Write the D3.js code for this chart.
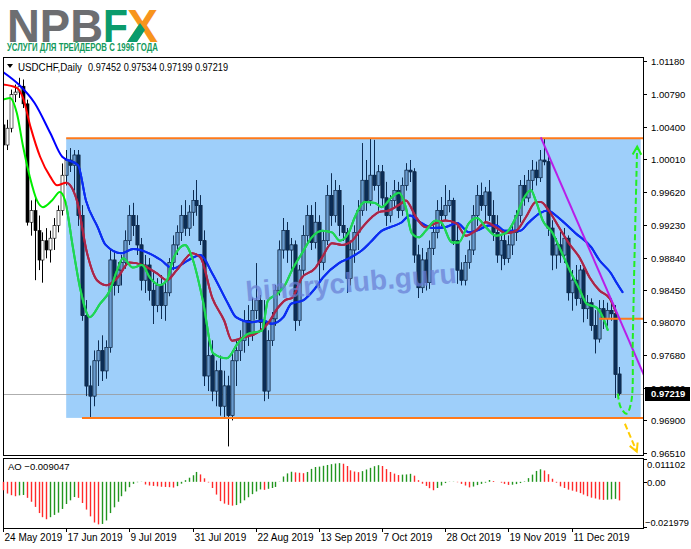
<!DOCTYPE html>
<html>
<head>
<meta charset="utf-8">
<script src="https://cdn.jsdelivr.net/npm/d3@7"></script>
<style>
  body { margin: 0; background: #fff; }
  svg { display: block; font-family: "Liberation Sans", Arial, sans-serif; }
</style>
</head>
<body>
<svg width="691" height="549"></svg>
<script>
// ---- data ----
const dateLabels = ['24 May 2019', '17 Jun 2019', '9 Jul 2019', '31 Jul 2019', '22 Aug 2019',
  '13 Sep 2019', '7 Oct 2019', '28 Oct 2019', '19 Nov 2019', '11 Dec 2019'];
const dateBars = [0, 16, 32, 48, 64, 80, 96, 112, 128, 144];

const priceTicks = [1.0118, 1.0079, 1.0040, 1.0001, 0.9962, 0.9923, 0.9884, 0.9845,
  0.9807, 0.9768, 0.9729, 0.9690, 0.9651];

const opens = [
  1.0042, 1.0018, 1.0038, 1.0078, 1.0081, 1.0088, 1.0067, 0.9926, 0.9940, 0.9916,
  0.9881, 0.9904, 0.9893, 0.9907, 0.9922, 0.9940, 0.9982, 1.0000, 0.9994, 1.0006,
  0.9934, 0.9815, 0.9731, 0.9719, 0.9761, 0.9773, 0.9749, 0.9777, 0.9881, 0.9851,
  0.9869, 0.9878, 0.9904, 0.9934, 0.9922, 0.9899, 0.9857, 0.9875, 0.9845, 0.9827,
  0.9851, 0.9827, 0.9842, 0.9878, 0.9899, 0.9914, 0.9934, 0.9919, 0.9938, 0.9952,
  0.9946, 0.9904, 0.9743, 0.9767, 0.9725, 0.9749, 0.9707, 0.9731, 0.9696, 0.9761,
  0.9773, 0.9785, 0.9809, 0.9791, 0.9821, 0.9833, 0.9807, 0.9725, 0.9785, 0.9811,
  0.9845, 0.9893, 0.9916, 0.9893, 0.9899, 0.9809, 0.9869, 0.9910, 0.9934, 0.9902,
  0.9926, 0.9878, 0.9904, 0.9958, 0.9934, 0.9964, 0.9922, 0.9914, 0.9859, 0.9893,
  0.9914, 0.9940, 0.9976, 0.9952, 0.9982, 0.9970, 0.9986, 0.9955, 0.9934, 0.9952,
  0.9964, 0.9940, 0.9970, 0.9988, 0.9986, 0.9887, 0.9848, 0.9881, 0.9854, 0.9895,
  0.9914, 0.9940, 0.9934, 0.9946, 0.9952, 0.9904, 0.9869, 0.9857, 0.9878, 0.9893,
  0.9934, 0.9958, 0.9946, 0.9962, 0.9934, 0.9914, 0.9887, 0.9904, 0.9883, 0.9899,
  0.9914, 0.9934, 0.9970, 0.9955, 0.9976, 0.9988, 0.9979, 1.0000, 0.9998, 0.9919,
  0.9887, 0.9899, 0.9887, 0.9907, 0.9842, 0.9857, 0.9835, 0.9869, 0.9823, 0.9830,
  0.9803, 0.9787, 0.9823, 0.9811, 0.9821, 0.9817, 0.97452];
const highs = [
  1.0050, 1.0048, 1.0084, 1.0090, 1.0098, 1.0096, 1.0072, 0.9952, 0.9958, 0.9934,
  0.9914, 0.9919, 0.9916, 0.9931, 0.9946, 0.9996, 1.0012, 1.0014, 1.0012, 1.0012,
  0.9946, 0.9833, 0.9755, 0.9773, 0.9785, 0.9791, 0.9785, 0.9893, 0.9890, 0.9878,
  0.9887, 0.9916, 0.9946, 0.9949, 0.9934, 0.9907, 0.9887, 0.9883, 0.9869, 0.9859,
  0.9863, 0.9854, 0.9883, 0.9910, 0.9922, 0.9946, 0.9952, 0.9946, 0.9964, 0.9976,
  0.9958, 0.9916, 0.9785, 0.9785, 0.9761, 0.9767, 0.9749, 0.9743, 0.9773, 0.9785,
  0.9797, 0.9821, 0.9827, 0.9836, 0.9877, 0.9839, 0.9833, 0.9797, 0.9819, 0.9851,
  0.9904, 0.9931, 0.9926, 0.9907, 0.9904, 0.9875, 0.9922, 0.9946, 0.9946, 0.9950,
  0.9934, 0.9914, 0.9970, 0.9984, 0.9976, 0.9970, 0.9946, 0.9919, 0.9904, 0.9922,
  0.9952, 1.0020, 1.0000, 1.0026, 1.0024, 0.9994, 0.9994, 0.9974, 0.9958, 0.9976,
  0.9974, 0.9979, 0.9996, 1.0000, 0.9990, 0.9899, 0.9895, 0.9890, 0.9904, 0.9922,
  0.9952, 0.9956, 0.9970, 0.9964, 0.9955, 0.9922, 0.9878, 0.9887, 0.9904, 0.9946,
  0.9970, 0.9973, 0.9968, 0.9976, 0.9952, 0.9934, 0.9910, 0.9916, 0.9910, 0.9922,
  0.9940, 0.9976, 0.9982, 0.9988, 1.0000, 0.9998, 1.0012, 1.0026, 1.0006, 0.9928,
  0.9907, 0.9914, 0.9919, 0.9910, 0.9869, 0.9875, 0.9875, 0.9871, 0.9839, 0.9835,
  0.9821, 0.9833, 0.9833, 0.9830, 0.9835, 0.9827, 0.97534];
const lows = [
  1.0010, 1.0012, 1.0033, 1.0069, 1.0074, 1.0062, 0.9922, 0.9910, 0.9857, 0.9869,
  0.9854, 0.9883, 0.9878, 0.9893, 0.9914, 0.9934, 0.9970, 0.9986, 0.9964, 0.9922,
  0.9809, 0.9719, 0.9692, 0.9707, 0.9731, 0.9737, 0.9740, 0.9771, 0.9839, 0.9842,
  0.9851, 0.9871, 0.9899, 0.9910, 0.9887, 0.9845, 0.9842, 0.9833, 0.9805, 0.9819,
  0.9811, 0.9809, 0.9838, 0.9869, 0.9887, 0.9904, 0.9910, 0.9910, 0.9922, 0.9934,
  0.9899, 0.9731, 0.9725, 0.9713, 0.9707, 0.9696, 0.9692, 0.9659, 0.9690, 0.9731,
  0.9761, 0.9771, 0.9779, 0.9785, 0.9811, 0.9797, 0.9713, 0.9716, 0.9779, 0.9803,
  0.9839, 0.9883, 0.9878, 0.9869, 0.9797, 0.9803, 0.9863, 0.9899, 0.9893, 0.9895,
  0.9848, 0.9869, 0.9899, 0.9922, 0.9926, 0.9910, 0.9904, 0.9842, 0.9851, 0.9878,
  0.9893, 0.9934, 0.9940, 0.9946, 0.9964, 0.9940, 0.9946, 0.9922, 0.9926, 0.9943,
  0.9931, 0.9934, 0.9964, 0.9974, 0.9878, 0.9836, 0.9842, 0.9845, 0.9847, 0.9887,
  0.9907, 0.9922, 0.9928, 0.9938, 0.9899, 0.9853, 0.9851, 0.9851, 0.9871, 0.9887,
  0.9922, 0.9940, 0.9926, 0.9928, 0.9904, 0.9878, 0.9869, 0.9875, 0.9878, 0.9887,
  0.9904, 0.9926, 0.9946, 0.9950, 0.9964, 0.9970, 0.9974, 0.9994, 0.9910, 0.9869,
  0.9871, 0.9878, 0.9878, 0.9833, 0.9821, 0.9827, 0.9829, 0.9807, 0.9811, 0.9797,
  0.9770, 0.9783, 0.9799, 0.9803, 0.9809, 0.9717, 0.97199];
const closes = [
  1.0018, 1.0038, 1.0078, 1.0081, 1.0088, 1.0067, 0.9926, 0.9940, 0.9916, 0.9881,
  0.9904, 0.9893, 0.9907, 0.9922, 0.9940, 0.9982, 1.0000, 0.9994, 1.0006, 0.9934,
  0.9815, 0.9731, 0.9719, 0.9761, 0.9773, 0.9749, 0.9777, 0.9881, 0.9851, 0.9869,
  0.9878, 0.9904, 0.9934, 0.9922, 0.9899, 0.9857, 0.9875, 0.9845, 0.9827, 0.9851,
  0.9827, 0.9842, 0.9878, 0.9899, 0.9914, 0.9934, 0.9919, 0.9938, 0.9952, 0.9946,
  0.9904, 0.9743, 0.9767, 0.9725, 0.9749, 0.9707, 0.9731, 0.9696, 0.9761, 0.9773,
  0.9785, 0.9809, 0.9791, 0.9821, 0.9833, 0.9807, 0.9725, 0.9785, 0.9811, 0.9845,
  0.9893, 0.9916, 0.9893, 0.9899, 0.9809, 0.9869, 0.9910, 0.9934, 0.9902, 0.9926,
  0.9878, 0.9904, 0.9958, 0.9934, 0.9964, 0.9922, 0.9914, 0.9859, 0.9893, 0.9914,
  0.9940, 0.9976, 0.9952, 0.9982, 0.9970, 0.9986, 0.9955, 0.9934, 0.9952, 0.9964,
  0.9940, 0.9970, 0.9988, 0.9986, 0.9887, 0.9848, 0.9881, 0.9854, 0.9895, 0.9914,
  0.9940, 0.9934, 0.9946, 0.9952, 0.9904, 0.9869, 0.9857, 0.9878, 0.9893, 0.9934,
  0.9958, 0.9946, 0.9962, 0.9934, 0.9914, 0.9887, 0.9904, 0.9883, 0.9899, 0.9914,
  0.9934, 0.9970, 0.9955, 0.9976, 0.9988, 0.9979, 1.0000, 0.9998, 0.9919, 0.9887,
  0.9899, 0.9887, 0.9907, 0.9842, 0.9857, 0.9835, 0.9869, 0.9823, 0.9830, 0.9803,
  0.9787, 0.9823, 0.9811, 0.9821, 0.9817, 0.9745, 0.97219];

// Awesome Oscillator, one value per bar
const aoValues = [
  -0.0041, -0.0057, -0.0065, -0.0070, -0.0066, -0.0064, -0.0078, -0.0097, -0.0122, -0.0152,
  -0.0172, -0.0182, -0.0172, -0.0161, -0.0150, -0.0132, -0.0108, -0.0090, -0.0074, -0.0078,
  -0.0103, -0.0135, -0.0168, -0.0198, -0.0207, -0.0205, -0.0188, -0.0152, -0.0124, -0.0097,
  -0.0070, -0.0047, -0.0026, -0.0010, -0.0002, -0.0001, -0.0013, -0.0018, -0.0020, -0.0022,
  -0.0024, -0.0025, -0.0026, -0.0028, -0.0021, -0.0009, 0.0008, 0.0020, 0.0032, 0.0048,
  0.0036, 0.0017, -0.0003, -0.0030, -0.0062, -0.0094, -0.0106, -0.0112, -0.0116, -0.0113,
  -0.0104, -0.0090, -0.0075, -0.0060, -0.0047, -0.0037, -0.0039, -0.0034, -0.0030, -0.0025,
  0.0001, 0.0026, 0.0041, 0.0049, 0.0046, 0.0044, 0.0042, 0.0048, 0.0063, 0.0072,
  0.0074, 0.0078, 0.0082, 0.0086, 0.0089, 0.0091, 0.0088, 0.0077, 0.0056, 0.0050,
  0.0047, 0.0052, 0.0060, 0.0068, 0.0076, 0.0081, 0.0077, 0.0062, 0.0048, 0.0040,
  0.0033, 0.0035, 0.0036, 0.0039, 0.0030, 0.0008, -0.0009, -0.0020, -0.0031, -0.0041,
  -0.0030, -0.0018, -0.0006, -0.0001, 0.0001, -0.0002, -0.0010, -0.0018, -0.0027, -0.0023,
  -0.0016, -0.0010, -0.0004, 0.0009, 0.0004, 0.0000, -0.0004, -0.0010, -0.0015, -0.0014,
  -0.0011, -0.0006, 0.0002, 0.0018, 0.0035, 0.0053, 0.0061, 0.0055, 0.0037, 0.0015,
  -0.0004, -0.0022, -0.0030, -0.0038, -0.0043, -0.0048, -0.0055, -0.0062, -0.0070, -0.0077,
  -0.0081, -0.0086, -0.0088, -0.0087, -0.0085, -0.0083, -0.009047];

// alligator lines, [bar, price]
const jaw = [[0,1.0105],[4,1.0090],[8,1.0068],[12,1.0032],[15,1.0004],[19,0.9994],[21,0.9952],
  [24,0.9920],[26,0.9899],[30,0.9889],[33,0.9894],[37,0.9889],[40,0.9881],[43,0.9871],[47,0.9881],
  [50,0.9887],[53,0.9865],[57,0.9829],[59,0.9813],[63,0.9807],[66,0.9809],[68,0.9805],[71,0.9813],
  [73,0.9829],[76,0.9833],[79,0.9847],[81,0.9860],[85,0.9877],[88,0.9884],[91,0.9893],[93,0.9902],
  [96,0.9916],[98,0.9920],[101,0.9926],[103,0.9934],[106,0.9925],[109,0.9919],[112,0.9920],
  [115,0.9925],[118,0.9914],[120,0.9916],[123,0.9922],[125,0.9922],[127,0.9916],[131,0.9916],
  [133,0.9925],[136,0.9937],[138,0.9940],[140,0.9934],[142,0.9926],[145,0.9913],[149,0.9896],
  [151,0.9881],[154,0.9865],[155,0.9857],[157,0.9842]];
const teeth = [[0,1.0090],[3.5,1.0086],[5,1.0075],[7,1.0039],[9.4,1.0004],[12,0.9980],[13.7,0.9970],
  [16,0.9973],[18.7,0.9952],[21.3,0.9889],[23.8,0.9857],[26.3,0.9851],[29,0.9860],[32,0.9878],
  [35.4,0.9875],[39,0.9865],[41.5,0.9857],[44,0.9869],[48,0.9889],[50,0.9884],[53,0.9836],
  [56,0.9809],[58,0.9785],[61,0.9789],[64.6,0.9795],[67,0.9805],[69.6,0.9824],[71.4,0.9833],
  [73.2,0.9836],[75.7,0.9860],[79,0.9871],[80.8,0.9884],[83.3,0.9901],[85.8,0.9899],[88.4,0.9904],
  [91,0.9920],[93.4,0.9932],[95.2,0.9938],[97.7,0.9940],[101,0.9949],[102,0.9952],[104.6,0.9932],
  [107,0.9920],[109.6,0.9925],[112,0.9928],[114.7,0.9925],[117.2,0.9910],[119.7,0.9916],
  [122.3,0.9926],[124.8,0.9920],[127.3,0.9913],[130,0.9916],[132.4,0.9932],[135,0.9950],
  [136.2,0.9950],[138.2,0.9940],[140.8,0.9920],[143.3,0.9901],[146,0.9884],[148.6,0.9860],
  [151,0.9845],[153.7,0.9835],[155.4,0.9817]];
const lips = [[0,1.0072],[1.8,1.0074],[3.5,1.0056],[5.1,1.0016],[6.8,0.9980],[8.6,0.9952],
  [10.1,0.9944],[12.4,0.9952],[14.4,0.9962],[15.7,0.9952],[17.7,0.9896],[19.5,0.9848],[22,0.9813],
  [24.6,0.9829],[27.1,0.9845],[28.9,0.9869],[30.4,0.9883],[32.9,0.9872],[35.2,0.9875],[37.2,0.9860],
  [39.7,0.9851],[41.5,0.9857],[43,0.9881],[46.1,0.9899],[48.1,0.9881],[50.6,0.9833],[53.2,0.9770],
  [56.7,0.9764],[59.5,0.9782],[62,0.9793],[65.6,0.9797],[67.1,0.9833],[69.6,0.9841],[71.4,0.9851],
  [73.2,0.9869],[75.7,0.9889],[78.2,0.9908],[80.8,0.9916],[83.3,0.9914],[85.3,0.9904],[87.6,0.9914],
  [89.1,0.9932],[91.6,0.9950],[94.2,0.9949],[95.9,0.9944],[98.5,0.9956],[100.3,0.9961],[102,0.9944],
  [103.5,0.9913],[105.3,0.9908],[107.1,0.9916],[109.6,0.9928],[111.1,0.9925],[113.7,0.9902],
  [115.4,0.9902],[118,0.9925],[120,0.9931],[122.3,0.9920],[124.8,0.9910],[127.3,0.9913],
  [129.9,0.9932],[131.6,0.9952],[133.7,0.9964],[134.9,0.9952],[136.7,0.9928],[139.2,0.9913],
  [141,0.9895],[143.5,0.9869],[146.1,0.9845],[147.8,0.9829],[150.4,0.9824],[151.9,0.9813],
  [153.2,0.9797]];

// drawn objects
const rangeTop = 1.0026, rangeBottom = 0.9693, rangeStart = 16, rangeEnd = 161.5;
const bottomLineStart = 20;
const midLevel = 0.9811, midLevelStart = 151;
const trendLine = [[136.2, 1.0027], [162.5, 0.9742]];
const upArrow = [[155.7, 0.9722], [156.4, 0.9706], [157.9, 0.9698], [159.1, 0.9712],
  [159.5, 0.9790], [160.0, 0.9900], [160.6, 1.0016]];
const downArrow = [[157.5, 0.9686], [160.5, 0.9653]];
const lastPrice = 0.97219;
const aoTicks = [0.011102, 0, -0.021979];

// ---- layout ----
const svg = d3.select('svg');
const plot = { left: 3, right: 643, top: 57, bottom: 455 };
const aoBox = { top: 458, bottom: 528 };

const x = d3.scaleLinear().domain([0, 156]).range([3, 619]);
const y = d3.scaleLinear().domain([0.96488, 1.01228]).range([plot.bottom, plot.top]);
const yAo = d3.scaleLinear().domain([-0.021979, 0.011102]).range([aoBox.bottom - 1, aoBox.top + 1]);

const defs = svg.append('defs');
defs.append('clipPath').attr('id', 'plotClip').append('rect')
  .attr('x', plot.left).attr('y', plot.top)
  .attr('width', plot.right - plot.left).attr('height', plot.bottom - plot.top);
defs.append('clipPath').attr('id', 'boxClip').append('rect')
  .attr('x', x(rangeStart)).attr('y', y(rangeTop))
  .attr('width', x(rangeEnd) - x(rangeStart)).attr('height', y(rangeBottom) - y(rangeTop));

// logo
svg.append('text').attr('x', 7).attr('y', 42).text('NPB')
  .attr('font-size', 47).attr('font-weight', 'bold').attr('fill', '#6d6e71')
  .attr('textLength', 96).attr('lengthAdjust', 'spacingAndGlyphs');
svg.append('text').attr('x', 103).attr('y', 42).text('F')
  .attr('font-size', 47).attr('font-weight', 'bold').attr('fill', '#0a9b6c')
  .attr('textLength', 25).attr('lengthAdjust', 'spacingAndGlyphs');
svg.append('text').attr('x', 127).attr('y', 42).text('X')
  .attr('font-size', 47).attr('font-weight', 'bold').attr('fill', '#f7941d')
  .attr('textLength', 31).attr('lengthAdjust', 'spacingAndGlyphs');
svg.append('path').attr('d', 'M127,42 L137,42 L145,30 L140,23 Z').attr('fill', '#0a9b6c');
svg.append('text').attr('x', 7).attr('y', 51).text('УСЛУГИ ДЛЯ ТРЕЙДЕРОВ С 1996 ГОДА')
  .attr('font-size', 10.5).attr('font-weight', 'bold').attr('fill', '#129a5c')
  .attr('textLength', 151).attr('lengthAdjust', 'spacingAndGlyphs');

// main panel
const main = svg.append('g').attr('clip-path', 'url(#plotClip)');

main.append('rect')
  .attr('x', x(rangeStart)).attr('y', y(rangeTop))
  .attr('width', x(rangeEnd) - x(rangeStart)).attr('height', y(rangeBottom) - y(rangeTop))
  .attr('fill', '#9ecffa');

main.append('line')
  .attr('x1', plot.left).attr('x2', plot.right)
  .attr('y1', Math.round(y(lastPrice)) + 0.5).attr('y2', Math.round(y(lastPrice)) + 0.5)
  .attr('stroke', '#9a9a9a').attr('stroke-width', 1).attr('opacity', 0.8);

const bars = d3.range(closes.length);

function drawCandles(g, bullFill, bearFill, ink) {
  g.selectAll('line.wick').data(bars).enter().append('line')
    .attr('class', 'wick')
    .attr('x1', i => Math.round(x(i)) + 0.5).attr('x2', i => Math.round(x(i)) + 0.5)
    .attr('y1', i => y(highs[i])).attr('y2', i => y(lows[i]))
    .attr('stroke', ink).attr('stroke-width', 1);
  g.selectAll('rect.body').data(bars).enter().append('rect')
    .attr('class', 'body')
    .attr('x', i => Math.round(x(i)) - 1)
    .attr('y', i => y(Math.max(opens[i], closes[i])))
    .attr('width', 3)
    .attr('height', i => Math.max(1, Math.abs(y(opens[i]) - y(closes[i]))))
    .attr('fill', i => closes[i] >= opens[i] ? bullFill : bearFill)
    .attr('stroke', ink).attr('stroke-width', 0.6);
}

drawCandles(main.append('g'), '#ffffff', '#000000', '#000000');
drawCandles(main.append('g').attr('clip-path', 'url(#boxClip)'), '#6b9ccd', '#0c2d55', '#0c2d55');

// alligator
const line = d3.line().x(d => x(d[0])).y(d => y(d[1])).curve(d3.curveMonotoneX);
const alligator = [
  { data: jaw, out: '#0000ff', inn: '#0a30f0' },
  { data: teeth, out: '#ff0000', inn: '#a3284e' },
  { data: lips, out: '#00ee00', inn: '#1fd35a' }
];
alligator.forEach(s => {
  main.append('path').attr('d', line(s.data))
    .attr('fill', 'none').attr('stroke', s.out).attr('stroke-width', 2);
  main.append('path').attr('d', line(s.data)).attr('clip-path', 'url(#boxClip)')
    .attr('fill', 'none').attr('stroke', s.inn).attr('stroke-width', 2);
});

// range lines
const orange = '#ff7a1a';
[[rangeStart, rangeTop], [bottomLineStart, rangeBottom], [midLevelStart, midLevel]].forEach(d => {
  main.append('line')
    .attr('x1', x(d[0])).attr('x2', plot.right)
    .attr('y1', y(d[1])).attr('y2', y(d[1]))
    .attr('stroke', orange).attr('stroke-width', 2);
});

// trend line
main.append('path').attr('d', d3.line().x(d => x(d[0])).y(d => y(d[1]))(trendLine))
  .attr('stroke', '#b81ee8').attr('stroke-width', 2).attr('fill', 'none');

// forecast arrows
function arrowHead(pts, color) {
  const a = pts[pts.length - 2], b = pts[pts.length - 1];
  const ang = Math.atan2(y(b[1]) - y(a[1]), x(b[0]) - x(a[0]));
  const tx = x(b[0]), ty = y(b[1]), len = 9;
  const p1 = [tx - len * Math.cos(ang - 0.5), ty - len * Math.sin(ang - 0.5)];
  const p2 = [tx - len * Math.cos(ang + 0.5), ty - len * Math.sin(ang + 0.5)];
  main.append('path').attr('d', `M${p1}L${tx},${ty}L${p2}`)
    .attr('fill', 'none').attr('stroke', color).attr('stroke-width', 2);
}
main.append('path')
  .attr('d', d3.line().x(d => x(d[0])).y(d => y(d[1])).curve(d3.curveCatmullRom)(upArrow))
  .attr('fill', 'none').attr('stroke', '#22ee22').attr('stroke-width', 2)
  .attr('stroke-dasharray', '6,3');
arrowHead(upArrow, '#22ee22');
main.append('path')
  .attr('d', d3.line().x(d => x(d[0])).y(d => y(d[1]))(downArrow))
  .attr('fill', 'none').attr('stroke', '#ffcc00').attr('stroke-width', 2)
  .attr('stroke-dasharray', '6,3');
arrowHead(downArrow, '#ffcc00');

// watermark
main.append('text')
  .attr('transform', 'translate(352,292) rotate(-5)')
  .attr('text-anchor', 'middle')
  .attr('font-size', 28).attr('font-weight', 'bold')
  .attr('fill', '#6a7fd6').attr('opacity', 0.72)
  .text('binaryclub.guru');

// header
svg.append('path').attr('d', 'M7,64 L13,64 L10,68 Z').attr('fill', '#000');
svg.append('text').attr('x', 18).attr('y', 71).text('USDCHF,Daily')
  .attr('font-size', 10).attr('fill', '#000')
  .attr('textLength', 64).attr('lengthAdjust', 'spacingAndGlyphs');
svg.append('text').attr('x', 88).attr('y', 71)
  .text([opens[156], highs[156], lows[156], closes[156]].map(d3.format('.5f')).join(' '))
  .attr('font-size', 10).attr('fill', '#000')
  .attr('textLength', 140).attr('lengthAdjust', 'spacingAndGlyphs');

// panel frames
svg.append('rect').attr('x', plot.left + 0.5).attr('y', plot.top + 0.5)
  .attr('width', plot.right - plot.left).attr('height', plot.bottom - plot.top)
  .attr('fill', 'none').attr('stroke', '#000');
svg.append('rect').attr('x', plot.left + 0.5).attr('y', aoBox.top + 0.5)
  .attr('width', plot.right - plot.left).attr('height', aoBox.bottom - aoBox.top)
  .attr('fill', 'none').attr('stroke', '#000');

// price axis
const yAxis = svg.append('g');
priceTicks.forEach(p => {
  const yy = Math.round(y(p)) + 0.5;
  yAxis.append('line').attr('x1', plot.right).attr('x2', plot.right + 4)
    .attr('y1', yy).attr('y2', yy).attr('stroke', '#000');
  yAxis.append('text').attr('x', 651).attr('y', yy).attr('dy', '0.35em')
    .attr('font-size', 9.5).text(d3.format('.5f')(p));
});
const yl = Math.round(y(lastPrice));
yAxis.append('rect').attr('x', 645).attr('y', yl - 7).attr('width', 45).attr('height', 14).attr('fill', '#000');
yAxis.append('text').attr('x', 651).attr('y', yl).attr('dy', '0.35em')
  .attr('font-size', 9.5).attr('font-weight', 'bold').attr('fill', '#fff')
  .text(d3.format('.5f')(lastPrice));

// AO panel
const ao = svg.append('g');
ao.selectAll('line').data(bars).enter().append('line')
  .attr('x1', i => Math.round(x(i)) + 0.5).attr('x2', i => Math.round(x(i)) + 0.5)
  .attr('y1', yAo(0)).attr('y2', i => yAo(aoValues[i]))
  .attr('stroke', i => (i > 0 && aoValues[i] > aoValues[i - 1]) ? '#22951f' : '#ff2a2a')
  .attr('stroke-width', 1.4);
ao.append('text').attr('x', 8).attr('y', 470).attr('font-size', 9.5)
  .text('AO ' + d3.format('.6f')(aoValues[156]));
aoTicks.forEach((v, k) => {
  const yy = Math.round(yAo(v)) + 0.5;
  const shift = k === 0 ? 5 : (k === 2 ? -5 : 0);
  ao.append('line').attr('x1', plot.right).attr('x2', plot.right + 4)
    .attr('y1', yy).attr('y2', yy).attr('stroke', '#000');
  const t = ao.append('text').attr('x', 647).attr('y', yy + shift).attr('dy', '0.35em')
    .attr('font-size', 9.5).text(v === 0 ? '0.00' : d3.format('.6f')(v));
  if (v < 0) t.attr('x', 645).attr('textLength', 44).attr('lengthAdjust', 'spacingAndGlyphs');
});

// date axis
const xAxis = svg.append('g');
dateBars.forEach((b, k) => {
  const xx = Math.round(x(b)) + 0.5;
  xAxis.append('line').attr('x1', xx).attr('x2', xx)
    .attr('y1', aoBox.bottom).attr('y2', aoBox.bottom + 4).attr('stroke', '#000');
  xAxis.append('text').attr('x', xx + 1).attr('y', 541).attr('font-size', 10)
    .text(dateLabels[k]);
});
</script>
</body>
</html>
